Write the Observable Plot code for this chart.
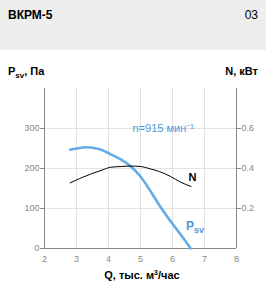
<!DOCTYPE html>
<html><head><meta charset="utf-8">
<script src="https://cdn.jsdelivr.net/npm/d3@7"></script>
<script src="https://cdn.jsdelivr.net/npm/@observablehq/plot@0.6"></script>
<style>
body{margin:0;background:#fff;font-family:"Liberation Sans",Arial,sans-serif;}
#wrap{position:relative;width:266px;height:296px;overflow:hidden;}
#head{position:absolute;left:0;top:0;width:266px;height:50px;background:#eeeeee;}
.t{position:absolute;white-space:nowrap;line-height:14px;color:#000;}
#chart{position:absolute;left:0;top:50px;}
sub{font-size:8px;vertical-align:-3px;line-height:0;}
sup{font-size:7px;vertical-align:4px;line-height:0;}
</style></head>
<body>
<div id="wrap">
  <div id="head"></div>
  <div class="t" style="left:8px;top:8px;font-size:12px;font-weight:bold;">ВКРМ-5</div>
  <div class="t" style="right:8px;top:8px;font-size:12px;">03</div>
  <div class="t" style="left:8px;top:64px;font-size:11px;font-weight:bold;">P<sub>sv</sub>, Па</div>
  <div class="t" style="right:8px;top:64px;font-size:11px;font-weight:bold;">N, кВт</div>
  <div class="t" style="left:0;width:284px;text-align:center;top:268px;font-size:11px;font-weight:bold;">Q, тыс. м<sup>3</sup>/час</div>
  <div id="chart"></div>
</div>
<script>
// Pressure curve P_sv (Па) vs Q (тыс. м³/час)
const qP  = [2.8, 3.0, 3.3, 3.7, 4.06, 4.4, 4.7, 5.0, 5.3, 5.6, 5.94, 6.3, 6.57];
const pSv = [247, 250, 253, 249, 236, 222, 205, 180, 145, 107, 68, 30, 0];
// Power curve N (кВт) vs Q
const qN  = [2.8, 3.1, 3.44, 3.8, 4.06, 4.4, 4.7, 5.0, 5.31, 5.6, 5.94, 6.25, 6.58];
const nKw = [0.328, 0.35, 0.372, 0.392, 0.406, 0.41, 0.412, 0.41, 0.398, 0.384, 0.36, 0.332, 0.31];
// Axes
const xTicks = [2, 3, 4, 5, 6, 7, 8];
const xGrid = [3, 4, 5, 6, 7];
const pTicks = [0, 100, 200, 300];
const pGrid = [100, 200, 300];
const nTicks = [0.2, 0.4, 0.6];
const nToP = 500; // right axis: 0.6 кВт aligns with 300 Па
const speedLabel = "n=915 мин⁻¹";

const chart = Plot.plot({
  width: 266, height: 246,
  marginTop: 38, marginBottom: 48, marginLeft: 44, marginRight: 30,
  style: {background: "transparent", fontFamily: "'Liberation Sans', Arial, sans-serif", fontSize: "9px", overflow: "visible"},
  x: {domain: [2, 8]},
  y: {domain: [0, 400]},
  marks: [
    Plot.gridX(xGrid, {stroke: "#e3e3e3", strokeOpacity: 1}),
    Plot.gridY(pGrid, {stroke: "#e3e3e3", strokeOpacity: 1}),
    Plot.ruleY([0], {stroke: "#888"}),
    Plot.ruleX([2, 8], {stroke: "#888"}),
    Plot.axisX(xTicks, {tickSize: 0, tickPadding: 7, color: "#888", label: null}),
    Plot.axisY(pTicks, {tickSize: 4, tickPadding: 1, color: "#888", label: null}),
    Plot.axisY(nTicks.map(d => d * nToP), {anchor: "right", tickSize: 4, tickPadding: 1, color: "#888", label: null,
      tickFormat: d => (d / nToP).toFixed(1)}),
    Plot.line(qP, {x: qP, y: pSv, curve: "monotone-x", stroke: "#66abe7", strokeWidth: 2.6}),
    Plot.line(qN, {x: qN, y: nKw.map(d => d * nToP), curve: "monotone-x", stroke: "#000", strokeWidth: 1}),
    Plot.text([speedLabel], {x: 4.75, y: 301, text: d => d, textAnchor: "start", fill: "#4d9ade", fontSize: 11}),
    Plot.text(["N"], {x: 6.5, y: 178, text: d => d, textAnchor: "start", fill: "#000", fontSize: 11, fontWeight: "bold"}),
    Plot.text(["P"], {x: 6.42, y: 57, text: d => d, textAnchor: "start", fill: "#4a96dc", fontSize: 12, fontWeight: "bold"}),
    Plot.text(["sv"], {x: 6.42, y: 57, dx: 8, dy: 4, text: d => d, textAnchor: "start", fill: "#4a96dc", fontSize: 9, fontWeight: "bold"})
  ]
});
document.getElementById("chart").appendChild(chart);
</script>
</body></html>
